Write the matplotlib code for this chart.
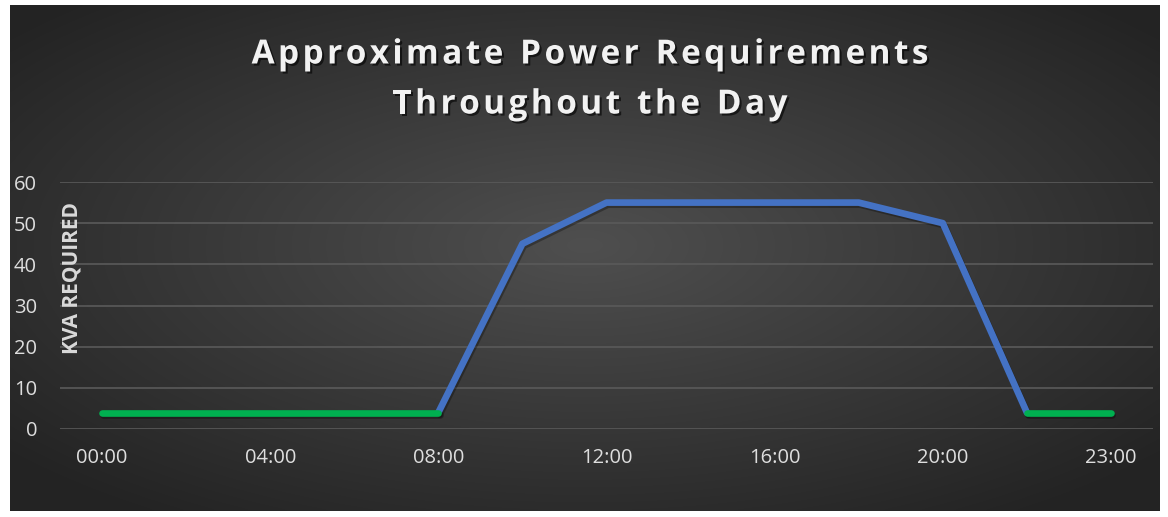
import numpy as np
import matplotlib
matplotlib.use("Agg")
import matplotlib.pyplot as plt
import matplotlib.patheffects as pe

# Données (une catégorie toutes les 2 h, puis 23:00)
heures = ["00:00", "02:00", "04:00", "06:00", "08:00", "10:00", "12:00",
          "14:00", "16:00", "18:00", "20:00", "22:00", "23:00"]
kva_nuit_matin = [4, 4, 4, 4, 4]          # 00:00 -> 08:00
kva_journee = [4, 45, 55, 55, 55, 55, 50, 4]  # 08:00 -> 22:00
kva_soir = [4, 4]                          # 22:00 -> 23:00
y_ticks = [0, 10, 20, 30, 40, 50, 60]
titre = ["Approximate Power Requirements", "Throughout the Day"]

x = np.arange(len(heures))
x_nuit = x[0:5]
x_jour = x[4:12]
x_soir = x[11:13]

fig = plt.figure(figsize=(11.68, 5.17), dpi=100)
fig.patch.set_facecolor("white")

# Fond sombre en dégradé radial
bg = fig.add_axes([10 / 1168, 6 / 517, 1150 / 1168, 506 / 517], zorder=0)
nx, ny = 400, 200
gx, gy = np.meshgrid(np.linspace(-1, 1, nx), np.linspace(-1, 1, ny))
r = np.sqrt(gx ** 2 + (gy + 0.05) ** 2)
r = np.clip(r / 1.3, 0, 1)
val = 0.31 - 0.17 * r
img = np.dstack([val, val, val])
bg.imshow(img, aspect="auto", extent=[0, 1, 0, 1], interpolation="bicubic")
bg.axis("off")

ax = fig.add_axes([60 / 1168, 1 - 429 / 517, 1093 / 1168, 247 / 517], zorder=1)
ax.patch.set_alpha(0)

ombre = [pe.SimpleLineShadow(offset=(1, -1.5), alpha=0.3, shadow_color="black"), pe.Normal()]
ax.plot(x_jour, kva_journee, color="#4472C4", lw=4.8, solid_capstyle="round",
        solid_joinstyle="round", path_effects=ombre, zorder=3)
ax.plot(x_nuit, kva_nuit_matin, color="#00B050", lw=4.8, solid_capstyle="round",
        path_effects=ombre, zorder=4)
ax.plot(x_soir, kva_soir, color="#00B050", lw=4.8, solid_capstyle="round",
        path_effects=ombre, zorder=4)

ax.set_xlim(-0.5, 12.5)
ax.set_ylim(0, 60)
ax.set_yticks(y_ticks)
ax.set_xticks(x[::2])
ax.set_xticklabels(heures[::2])
ax.grid(axis="y", color="#5a5a5a", lw=1.2)
ax.set_axisbelow(True)
for s in ax.spines.values():
    s.set_visible(False)
ax.tick_params(length=0, colors="#dedede", labelsize=14.5)
ax.tick_params(axis="y", pad=16.5)
ax.tick_params(axis="x", pad=14)
for lab in ax.get_xticklabels() + ax.get_yticklabels():
    lab.set_fontfamily("Open Sans")

ax.text(12 / 1093, (429 - 278) / 247, "KVA REQUIRED", transform=ax.transAxes,
        rotation=90, ha="center", va="center", color="#d9d9d9", fontsize=15,
        fontweight="bold", fontfamily="Open Sans")

# Titre avec espacement des lettres
titre_ombre = [pe.withSimplePatchShadow(offset=(1.5, -1.5), alpha=0.6, shadow_rgbFace="black")]
renderer = fig.canvas.get_renderer()
espacement = 3.4  # px ajoutés entre les lettres
for ligne, yc in zip(titre, [55, 105]):
    largeurs = []
    for c in ligne:
        t = fig.text(0, 0, c if c != " " else "a", fontsize=24, fontweight="bold",
                     fontfamily="Open Sans")
        w = t.get_window_extent(renderer).width
        if c == " ":
            w *= 0.5
        largeurs.append(w)
        t.remove()
    total = sum(largeurs) + espacement * (len(ligne) - 1)
    xpos = 590 - total / 2
    for c, w in zip(ligne, largeurs):
        if c != " ":
            fig.text(xpos / 1168, 1 - yc / 517, c, ha="left", va="center",
                     color="#f2f2f2", fontsize=24, fontweight="bold",
                     fontfamily="Open Sans", path_effects=titre_ombre)
        xpos += w + espacement

fig.savefig("out.png", dpi=100)
